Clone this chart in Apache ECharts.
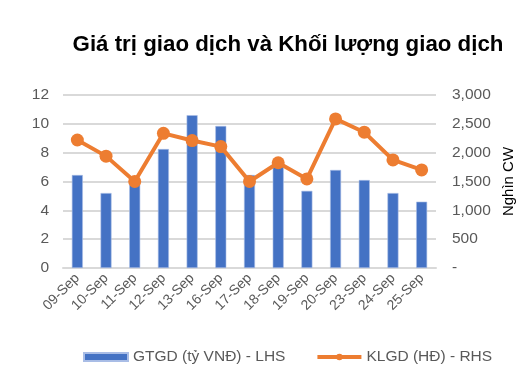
<!DOCTYPE html>
<html><head><meta charset="utf-8">
<script src="https://cdn.jsdelivr.net/npm/echarts@6/dist/echarts.min.js"></script>
<style>html,body{margin:0;padding:0;background:#fff}#c{width:532px;height:376px}</style>
</head><body><div id="c"></div>
<script>
const categories = ['09-Sep','10-Sep','11-Sep','12-Sep','13-Sep','16-Sep','17-Sep','18-Sep','19-Sep','20-Sep','23-Sep','24-Sep','25-Sep'];
const gtgd = [6.45, 5.2, 5.8, 8.25, 10.6, 9.85, 6.45, 7.15, 5.35, 6.8, 6.1, 5.2, 4.6];
const klgd = [2220, 1940, 1500, 2335, 2210, 2105, 1500, 1825, 1545, 2585, 2355, 1875, 1700];
const leftTicks = [0, 2, 4, 6, 8, 10, 12];
const rightTicks = [0, 500, 1000, 1500, 2000, 2500, 3000];
const chart = echarts.init(document.getElementById('c'));
const font = 'Liberation Sans, Arial, sans-serif';
chart.setOption({
  animation: false,
  textStyle: {fontFamily: font},
  title: {text: 'Giá trị giao dịch và Khối lượng giao dịch', left: 283, top: 29, textAlign: 'center',
    textStyle: {fontSize: 22.3, fontWeight: 'bold', color: '#000', fontFamily: font}},
  legend: {bottom: 6, left: 78, itemGap: 30, itemWidth: 44, itemHeight: 8,
    textStyle: {fontSize: 15.5, color: '#595959', fontFamily: font},
    data: [{name: 'GTGD (tỷ VNĐ) - LHS', icon: 'rect'},
           {name: 'KLGD (HĐ) - RHS', lineStyle: {width: 4, color: '#ED7D31'}, itemStyle: {color: '#ED7D31'}}]},
  grid: {left: 63, right: 96, top: 95, bottom: 108, containLabel: false},
  xAxis: {type: 'category', data: categories,
    axisLine: {show: true, lineStyle: {color: '#d9d9d9', width: 2}},
    axisTick: {show: false},
    axisLabel: {rotate: 45, fontSize: 14, color: '#595959', interval: 0, margin: 8, fontFamily: font}},
  yAxis: [
    {type: 'value', min: leftTicks[0], max: leftTicks[leftTicks.length-1], interval: 2,
      axisLine: {show: false}, axisTick: {show: false},
      axisLabel: {fontSize: 15.5, color: '#595959', margin: 14, fontFamily: font},
      splitLine: {lineStyle: {color: '#d9d9d9', width: 2}}},
    {type: 'value', min: rightTicks[0], max: rightTicks[rightTicks.length-1], interval: 500,
      name: 'Nghìn CW', nameLocation: 'middle', nameGap: 61, nameRotate: 90,
      nameTextStyle: {fontSize: 15, color: '#000', fontFamily: font},
      axisLine: {show: false}, axisTick: {show: false}, splitLine: {show: false},
      axisLabel: {fontSize: 15.5, color: '#595959', margin: 16, fontFamily: font,
        formatter: v => v === 0 ? '-' : v.toLocaleString('en-US')}}
  ],
  series: [
    {name: 'GTGD (tỷ VNĐ) - LHS', type: 'bar', data: gtgd, yAxisIndex: 0, barWidth: 11,
      itemStyle: {color: '#4472C4', borderColor: '#a9bde6', borderWidth: 0.6}},
    {name: 'KLGD (HĐ) - RHS', type: 'line', data: klgd, yAxisIndex: 1,
      symbol: 'circle', symbolSize: 13,
      lineStyle: {color: '#ED7D31', width: 4}, itemStyle: {color: '#ED7D31'}}
  ]
});
</script></body></html>
